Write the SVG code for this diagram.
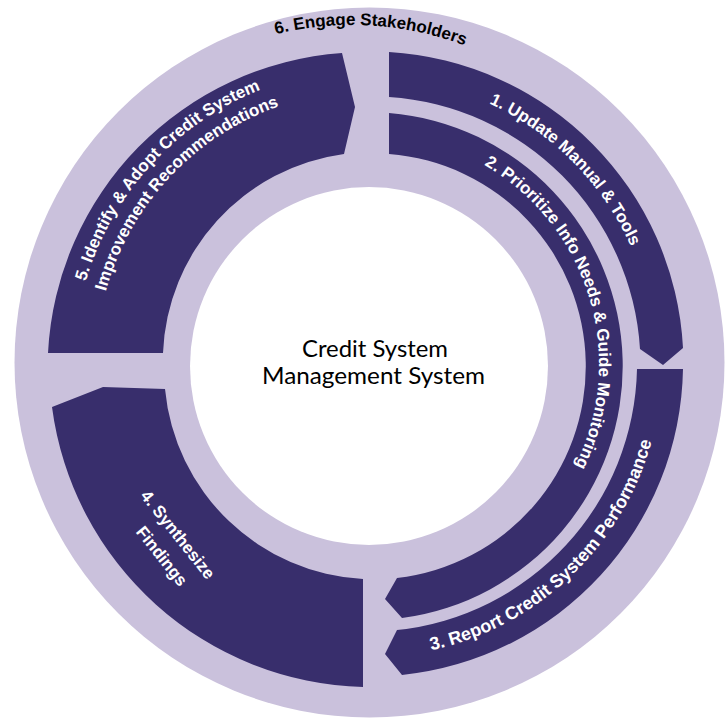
<svg xmlns="http://www.w3.org/2000/svg" width="725" height="719" viewBox="0 0 725 719">
<defs>
<style>
.ring{fill:#cac1dc}
.hole{fill:#ffffff}
.seg{fill:#382e6c}
.lbl{font-family:"Liberation Sans",Arial,sans-serif;font-weight:bold;font-size:17px;fill:#ffffff}
.lbl6{font-family:"Liberation Sans",Arial,sans-serif;font-weight:bold;font-size:17px;fill:#000000}
.ctr{font-family:Lato,"Noto Sans",sans-serif;font-size:24px;fill:#000000}
</style>
<path id="p6" d="M84.9,168.8 A320,320 0 0 1 638.1,201.7" fill="none"/>
<path id="p1" d="M296.2,86.4 A287,287 0 0 1 645.8,439.7" fill="none"/>
<path id="p2" d="M421.5,140.1 A230,230 0 0 1 536.7,521.4" fill="none"/>
<path id="p3" d="M285.8,644.9 A293,293 0 0 0 653.9,295.6" fill="none"/>
<path id="p5a" d="M87.9,453.4 A295,295 0 0 1 432.1,75.8" fill="none"/>
<path id="p5b" d="M107.8,443.4 A273,273 0 0 1 430.9,98.1" fill="none"/>
</defs>
<g id="node-6">
<circle class="ring" cx="369.5" cy="362.5" r="355"/>
<text class="lbl6"><textPath href="#p6" startOffset="50%" text-anchor="middle">6. Engage Stakeholders</textPath></text>
</g>
<g id="node-center">
<circle class="hole" cx="369" cy="366" r="179"/>
<text class="ctr" x="375" y="357" text-anchor="middle" textLength="146" lengthAdjust="spacingAndGlyphs">Credit System</text>
<text class="ctr" x="373.5" y="384" text-anchor="middle" textLength="223" lengthAdjust="spacingAndGlyphs">Management System</text>
</g>
<g id="node-1">
<path class="seg" d="M389,52 A313,313 0 0 1 683,348 L663,365 L640,349 A269,269 0 0 0 389,97 Z"/>
<text class="lbl"><textPath href="#p1" startOffset="50%" text-anchor="middle">1. Update Manual &amp; Tools</textPath></text>
</g>
<g id="node-2">
<path class="seg" d="M389,113 A254,254 0 0 1 402,618 L385,599 L397,578 A213,213 0 0 0 389,154 Z"/>
<text class="lbl"><textPath href="#p2" startOffset="50%" text-anchor="middle">2. Prioritize Info Needs &amp; Guide Monitoring</textPath></text>
</g>
<g id="node-3">
<path class="seg" d="M637,369 L683,369 A313,313 0 0 1 402,675 L385,654 L397,630 A268,268 0 0 0 637,369 Z"/>
<text class="lbl" style="font-size:18px"><textPath href="#p3" startOffset="50%" text-anchor="middle">3. Report Credit System Performance</textPath></text>
</g>
<g id="node-4">
<path class="seg" d="M363,579 L363,687 A322,322 0 0 1 52,407 L103,387 L165,389 A210,210 0 0 0 363,579 Z"/>
<text class="lbl" text-anchor="middle" transform="translate(173.3,538.2) rotate(51.5)">4. Synthesize</text>
<text class="lbl" text-anchor="middle" transform="translate(157.3,559.7) rotate(51.5)">Findings</text>
</g>
<g id="node-5">
<path class="seg" d="M48,353 A317,317 0 0 1 342,53 L355,107 L344,154 A209,209 0 0 0 163,353 Z"/>
<text class="lbl"><textPath href="#p5a" startOffset="50%" text-anchor="middle">5. Identify &amp; Adopt Credit System</textPath></text>
<text class="lbl"><textPath href="#p5b" startOffset="50%" text-anchor="middle">Improvement Recommendations</textPath></text>
</g>
<g id="connectors"/>
</svg>
